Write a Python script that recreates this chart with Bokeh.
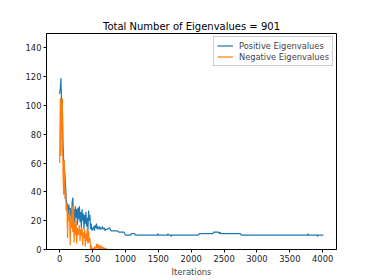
from bokeh.plotting import figure
from bokeh.models import Range1d, FixedTicker, Legend, LegendItem
from bokeh.embed import file_html
from bokeh.resources import INLINE

# ---- data ----
early_iters = list(range(0, 710, 10))
pos_early = [108, 112, 119, 97, 104, 75, 63, 58, 52, 44,
             35, 30, 32, 24, 31, 22, 29, 26, 20, 33,
             36, 24, 28, 18, 30, 22, 28, 17, 29, 21,
             30, 19, 26, 15, 28, 20, 25, 14, 24, 18,
             26, 16, 22, 13, 27, 20, 24, 14, 18, 13,
             15, 14, 16, 13, 17, 15, 18, 14, 16, 15,
             14, 16, 14, 15, 14, 16, 15, 14, 15, 13, 14]
neg_early = [60, 105, 65, 100, 105, 55, 38, 62, 35, 40,
             27, 32, 8, 25, 20, 28, 3, 22, 15, 30,
             12, 32, 5, 18, 10, 20, 4, 15, 10, 12,
             17, 6, 14, 10, 15, 3, 12, 8, 14, 2,
             11, 6, 15, 4, 13, 5, 8, 0, 3, 0,
             1, 0, 0, 2, 0, 0, 4, 1, 4, 0,
             3, 1, 0, 3, 0, 0, 2, 0, 1, 0, 1]
pos_late_iters = [720, 760, 780, 880, 900, 980, 1000, 1080, 1090, 1140, 1150,
                  1490, 1495, 1505, 1640, 1645, 1655, 1690, 1695, 1705,
                  2110, 2120, 2330, 2340, 2420, 2430, 2440, 2450, 2750, 2760,
                  3770, 3775, 3785, 3915, 3920, 3925, 4010]
pos_late = [14, 15, 13, 13, 12, 12, 10, 10, 11, 11, 10,
            10, 11, 10, 10, 11, 10, 10, 9, 10,
            10, 11, 11, 12, 12, 11, 12, 11, 11, 10,
            10, 11, 10, 10, 9, 10, 10]
neg_late_iters = [720, 4010]
neg_late = [0, 0]

x_ticks = [0, 500, 1000, 1500, 2000, 2500, 3000, 3500, 4000]
y_ticks = [0, 20, 40, 60, 80, 100, 120, 140]
title_text = "Total Number of Eigenvalues = 901"
series_names = ["Positive Eigenvalues", "Negative Eigenvalues"]
colors = ["#1f77b4", "#ff7f0e"]

pos_x = early_iters + pos_late_iters
pos_y = pos_early + pos_late
neg_x = early_iters + neg_late_iters
neg_y = neg_early + neg_late

FONT = "DejaVu Sans"

p = figure(width=370, height=278, output_backend="svg", toolbar_location=None,
           x_range=Range1d(-200, 4210), y_range=Range1d(0, 150),
           min_border_left=46, min_border_right=34, min_border_top=33,
           min_border_bottom=29)
p.frame_width = 290
p.frame_height = 216

r1 = p.line(pos_x, pos_y, line_color=colors[0], line_width=1.2)
r2 = p.line(neg_x, neg_y, line_color=colors[1], line_width=1.2)

p.title.text = title_text
p.title.align = "center"
p.title.text_font = FONT
p.title.text_font_size = "10px"
p.title.text_font_style = "normal"
p.title.text_color = "#000000"
p.title.offset = 0
p.title.standoff = 4

p.xgrid.visible = False
p.ygrid.visible = False
p.outline_line_color = "#000000"
p.outline_line_width = 1

for ax in (p.xaxis[0], p.yaxis[0]):
    ax.major_label_text_font = FONT
    ax.major_label_text_font_size = "8.4px"
    ax.major_label_text_color = "#222222"
    ax.axis_line_color = "#000000"
    ax.major_tick_line_color = "#000000"
    ax.major_tick_out = 3
    ax.major_tick_in = 0
    ax.minor_tick_line_color = None
    ax.major_label_standoff = 2

p.xaxis.ticker = FixedTicker(ticks=x_ticks)
p.yaxis.ticker = FixedTicker(ticks=y_ticks)
p.xaxis.axis_label = "Iterations"
p.xaxis.axis_label_text_font = FONT
p.xaxis.axis_label_text_font_size = "8.4px"
p.xaxis.axis_label_text_font_style = "normal"
p.xaxis.axis_label_standoff = 2

legend = Legend(items=[LegendItem(label=series_names[0], renderers=[r1]),
                       LegendItem(label=series_names[1], renderers=[r2])],
                location="top_right")
legend.label_text_font = FONT
legend.label_text_font_size = "8.3px"
legend.glyph_width = 16
legend.glyph_height = 11
legend.label_height = 11
legend.spacing = 0
legend.padding = 3
legend.margin = 3
legend.border_line_color = "#cccccc"
legend.border_line_alpha = 1
legend.label_standoff = 6
p.add_layout(legend)

open("out.html", "w").write(file_html(p, INLINE))
